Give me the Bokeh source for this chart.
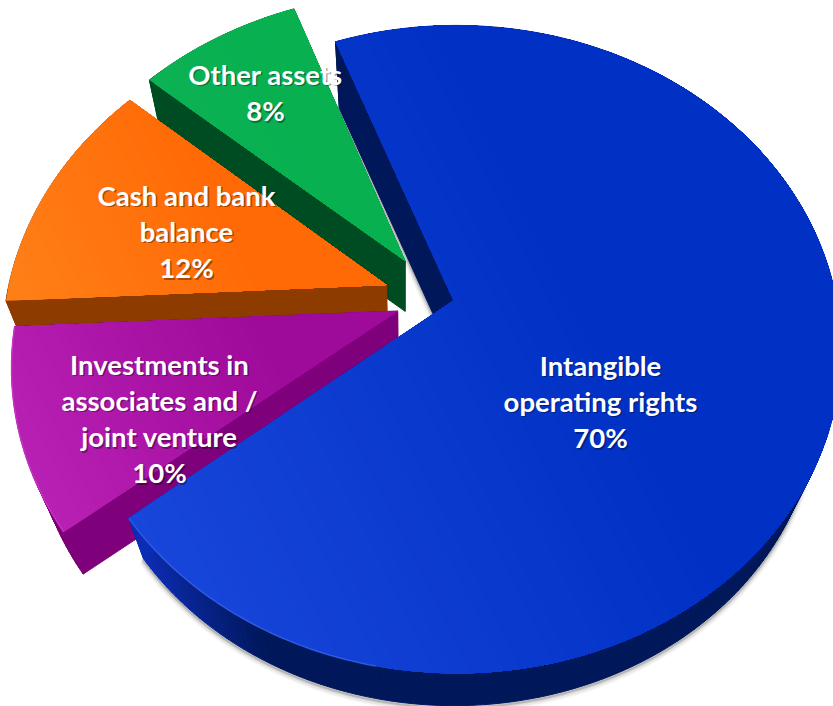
import numpy as np
from bokeh.core.properties import value
from bokeh.embed import file_html
from bokeh.plotting import figure
from bokeh.resources import INLINE

# Asset shares, in percent, in drawing order around the pie
categories = ["Intangible\noperating rights", "Investments in\nassociates and /\njoint venture",
              "Cash and bank\nbalance", "Other assets"]
shares = [70, 10, 12, 8]

# Slice styling and geometry
explode_x = [0.0, -0.1465, -0.178, -0.13]
explode_y = [0.0, 0.033, -0.049, -0.128]
slice_radius = [1.0, 1.006, 1.012, 1.012]
wall_depth = [0.054, 0.057, 0.032, 0.050]
light = ["#1846da", "#b820b4", "#ff8018", "#0cb254"]
dark = ["#0030c4", "#9e0a9a", "#ff6a06", "#08b050"]
wall = ["#00175a", "#7e007a", "#8e3b00", "#004c22"]
wall_near = ["#0c2cb4", "#7e007a", "#8e3b00", "#004c22"]
rim = ["#3a66f0", "#d040cc", "#ff8a2a", "#0cb254"]
rim_part = [0.17, 1.0, 0.0, 0.0]
label_x = [600, 159, 186, 265]
label_y = [401, 418, 231, 92]

START_ANGLE = -20.8      # degrees clockwise from the far side of the pie
CX, CY = 453.0, 300.0    # screen position of the pie's centre
SCALE_X, SCALE_Y = 380.0, 316.6
TILT_X, TILT_Y = 0.008, 0.151
VANISH = (404.0, 1270.0)
BANDS = 48


def project(px, py):
    w = 1 - TILT_X * px - TILT_Y * py
    return CX + SCALE_X * px / w, CY + SCALE_Y * py / w


def hexrgb(c):
    return np.array([int(c[i:i + 2], 16) for i in (1, 3, 5)], dtype=float)


def rgbhex(c):
    return "#%02x%02x%02x" % tuple(int(round(v)) for v in c)


def drop(x, y, depth):
    x, y = np.asarray(x), np.asarray(y)
    return x + (VANISH[0] - x) * depth, y + (VANISH[1] - y) * depth


def clip_half_plane(x, y, ux, uy, limit):
    """Keep the part of a polygon where x*ux + y*uy >= limit."""
    out_x, out_y = [], []
    n = len(x)
    for j in range(n):
        k = (j + 1) % n
        dj = x[j] * ux + y[j] * uy - limit
        dk = x[k] * ux + y[k] * uy - limit
        if dj >= 0:
            out_x.append(x[j])
            out_y.append(y[j])
        if (dj >= 0) != (dk >= 0):
            f = dj / (dj - dk)
            out_x.append(x[j] + (x[k] - x[j]) * f)
            out_y.append(y[j] + (y[k] - y[j]) * f)
    return out_x, out_y


p = figure(width=833, height=706, x_range=(0, 833), y_range=(706, 0),
           x_axis_type=None, y_axis_type=None, toolbar_location=None,
           output_backend="svg", min_border=0, outline_line_color=None)
p.grid.visible = False

# Outline of every slice, with its arc derived from its share
outlines = []
a = START_ANGLE
for i, s in enumerate(shares):
    a0, a1 = a, a + s * 3.6
    a = a1
    angles = np.radians(np.linspace(a0, a1, max(12, int(a1 - a0))))
    r = slice_radius[i]
    ox, oy = project(explode_x[i] + r * np.sin(angles), explode_y[i] - r * np.cos(angles))
    ax, ay = project(explode_x[i], explode_y[i])
    tx = np.concatenate([[ax], ox])
    ty = np.concatenate([[ay], oy])
    bx, by = drop(tx, ty, wall_depth[i])
    outlines.append((tx, ty, bx, by, ox, oy))

# Soft shadow under the large slice's lower edge
bx, by = outlines[0][2], outlines[0][3]
for width, alpha, dy in [(9, 0.03, 3), (6, 0.06, 3), (4, 0.09, 2), (2, 0.14, 2)]:
    p.line(list(bx) + [bx[0]], list(by + dy) + [by[0] + dy],
           line_color="#000000", line_alpha=alpha, line_width=width)

# Painted back to front: the last slice first, the largest slice on top
for i in [3, 2, 1, 0]:
    tx, ty, bx, by, ox, oy = outlines[i]

    # Side walls: one quad for each outline segment
    wx, wy, wc = [], [], []
    near, far = hexrgb(wall_near[i]), hexrgb(wall[i])
    n = len(tx)
    for j in range(n):
        k = (j + 1) % n
        wx.append([tx[j], tx[k], bx[k], bx[j]])
        wy.append([ty[j], ty[k], by[k], by[j]])
        f = min(1.0, max(0.0, (tx[j] - 135) / 130))
        wc.append(rgbhex(near + (far - near) * f))
    p.patches(wx, wy, fill_color=wc, line_color=wc, line_width=1)

    # Top face: nested clipped copies give a smooth linear shading
    ux, uy = 0.9, -0.45
    proj = tx * ux + ty * uy
    lo, hi = proj.min(), proj.max()
    c_light, c_dark = hexrgb(light[i]), hexrgb(dark[i])
    face_x, face_y, face_c = [], [], []
    for b in range(BANDS):
        f = b / (BANDS - 1)
        cx_, cy_ = clip_half_plane(list(tx), list(ty), ux, uy, lo + (hi - lo) * f)
        if b == 0:
            cx_, cy_ = list(tx), list(ty)
        if len(cx_) < 3:
            continue
        face_x.append(cx_)
        face_y.append(cy_)
        face_c.append(rgbhex(c_light + (c_dark - c_light) * min(1.0, f * 1.5)))
    p.patches(face_x, face_y, fill_color=face_c, line_color=None)

    # Thin bevel along the part of the outer rim that catches the light
    if rim_part[i] > 0:
        count = max(2, int(len(ox) * rim_part[i]))
        p.line(ox[-count:], oy[-count:], line_color=rim[i], line_width=1.5, line_alpha=0.7)

# Percentage labels with a soft dark offset behind them
texts = [f"{c}\n{s}%" for c, s in zip(categories, shares)]
lx = np.array(label_x, dtype=float)
ly = np.array(label_y, dtype=float)
p.text(lx + 1.5, ly + 1.5, text=texts, text_color="#000000", text_alpha=0.35,
       text_font=value("Lato"), text_font_style="bold", text_font_size="27.5px",
       text_align="center", text_baseline="middle", text_line_height=1.1)
p.text(lx, ly, text=texts, text_color="#ffffff",
       text_font=value("Lato"), text_font_style="bold", text_font_size="27.5px",
       text_align="center", text_baseline="middle", text_line_height=1.1)

open("out.html", "w").write(file_html(p, INLINE))
